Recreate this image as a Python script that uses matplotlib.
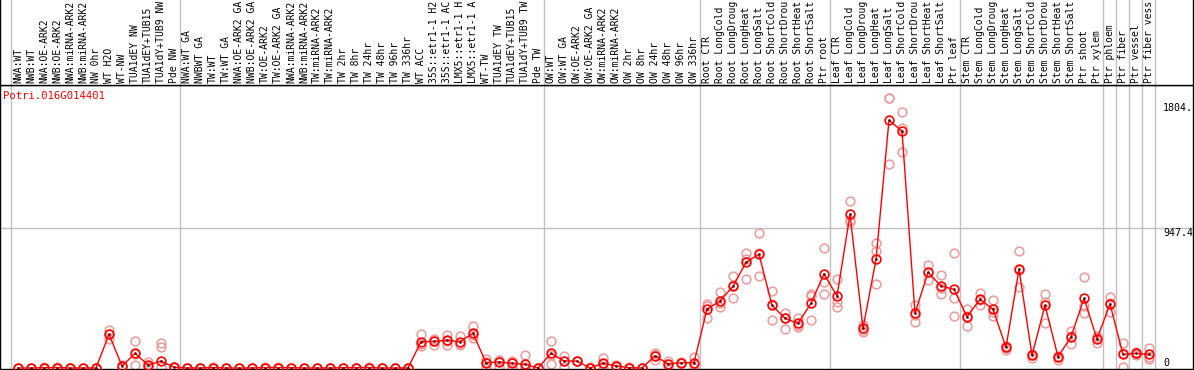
import matplotlib
matplotlib.use("Agg")
import matplotlib.pyplot as plt
import matplotlib.transforms as mtransforms
import numpy as np

# sample labels (as shown, truncated to 14 chars)
samples = [
    "NWA:WT", "NWB:WT", "NWA:OE-ARK2", "NWB:OE-ARK2", "NWA:miRNA-ARK2", "NWB:miRNA-ARK2",
    "NW 0hr", "WT H2O", "WT-NW", "TUA1dEY NW", "TUA1dEY+TUB15", "TUA1dY+TUB9 NW", "Pde NW",
    "NWA:WT GA", "NWBWT GA", "TW:WT", "TW:WT GA", "NWA:OE-ARK2 GA", "NWB:OE-ARK2 GA",
    "TW:OE-ARK2", "TW:OE-ARK2 GA", "NWA:miRNA-ARK2", "NWB:miRNA-ARK2", "TW:miRNA-ARK2",
    "TW:miRNA-ARK2", "TW 2hr", "TW 8hr", "TW 24hr", "TW 48hr", "TW 96hr", "TW 336hr",
    "WT ACC", "35S::etr1-1 H2", "35S::etr1-1 AC", "LMX5::etr1-1 H", "LMX5::etr1-1 A",
    "WT-TW", "TUA1dEY TW", "TUA1dEY+TUB15", "TUA1dY+TUB9 TW", "Pde TW",
    "OW:WT", "OW:WT GA", "OW:OE-ARK2", "OW:OE-ARK2 GA", "OW:miRNA-ARK2", "OW:miRNA-ARK2",
    "OW 2hr", "OW 8hr", "OW 24hr", "OW 48hr", "OW 96hr", "OW 336hr",
    "Root CTR", "Root LongCold", "Root LongDroug", "Root LongHeat", "Root LongSalt",
    "Root ShortCold", "Root ShortDrou", "Root ShortHeat", "Root ShortSalt", "Ptr root",
    "Leaf CTR", "Leaf LongCold", "Leaf LongDroug", "Leaf LongHeat", "Leaf LongSalt",
    "Leaf ShortCold", "Leaf ShortDrou", "Leaf ShortHeat", "Leaf ShortSalt", "Ptr leaf",
    "Stem CTR", "Stem LongCold", "Stem LongDroug", "Stem LongHeat", "Stem LongSalt",
    "Stem ShortCold", "Stem ShortDrou", "Stem ShortHeat", "Stem ShortSalt", "Ptr shoot",
    "Ptr xylem", "Ptr phloem", "Ptr fiber", "Ptr vessel", "Ptr fiber vess",
]
group_sizes = [13, 28, 12, 10, 10, 11, 1, 1, 1, 1]

means = [
    0, 0, 2, 3, 0, 0, 0, 228, 13, 99, 20, 47, 5,
    0, 0, 3, 0, 0, 0, 3, 3, 2, 0, 0, 0, 2, 2, 3, 0, 0, 0,
    178, 180, 187, 178, 235, 36, 41, 32, 25, 0,
    99, 47, 47, 0, 32, 14, 2, 0, 83, 27, 36, 36,
    399, 453, 553, 715, 771, 424, 336, 302, 438, 636,
    487, 1040, 269, 735, 1676, 1604, 370, 647, 555, 532,
    347, 465, 397, 140, 668, 86, 424, 77, 210, 471,
    196, 433, 92, 99, 92,
]
rep_a = [
    0, 0, 0, 0, 0, 0, 0, 257, 10, 180, 43, 171, 8,
    0, 0, 3, 0, 0, 0, 3, 3, 2, 0, 0, 0, 2, 2, 3, 0, 0, 0,
    230, 194, 225, 217, 282, 63, 55, 50, 88, 0,
    185, 83, 47, 0, 66, 20, 0, 0, 104, 47, 36, 77,
    433, 512, 623, 776, 911, 521, 374, 336, 499, 810,
    600, 1130, 246, 848, 1825, 1730, 426, 697, 629, 776,
    401, 510, 460, 122, 792, 95, 499, 54, 252, 618,
    215, 483, 167, 110, 138,
]
rep_b = [
    3, 0, 5, 6, 0, 0, 2, 196, 18, 20, 10, 144, 2,
    0, 0, 4, 0, 0, 0, 4, 4, 3, 0, 0, 0, 3, 3, 4, 0, 0, 0,
    149, 156, 153, 156, 203, 0, 8, 5, 0, 0,
    25, 9, 45, 5, 0, 5, 4, 0, 54, 5, 38, 0,
    336, 411, 471, 600, 620, 325, 262, 280, 325, 499,
    415, 1001, 260, 794, 1830, 1622, 309, 596, 501, 471,
    286, 424, 352, 150, 550, 70, 302, 80, 160, 374,
    170, 381, 9, 90, 72,
]
rep_c = [
    0, 0, 2, 3, 0, 0, 0, 232, 12, 97, 8, 5, 4,
    0, 0, 2, 0, 0, 0, 2, 2, 1, 0, 0, 0, 1, 1, 2, 0, 0, 0,
    160, 185, 180, 165, 225, 40, 45, 38, 10, 0,
    90, 50, 50, 0, 30, 15, 2, 0, 90, 30, 34, 30,
    420, 440, 560, 740, 780, 430, 340, 290, 490, 584,
    445, 990, 290, 568, 1380, 1462, 360, 650, 540, 352,
    350, 460, 380, 135, 660, 90, 450, 75, 215, 420,
    200, 440, 100, 95, 60,
]
gene = "Potri.016G014401"
ytick_vals = [1793, 947.4, 0]
ytick_text = ["1804.", "947.4", "0"]

W, H = 1194, 370
fig = plt.figure(figsize=(W / 100, H / 100), dpi=100)
fig.patch.set_facecolor("white")

# pixel layout
x0_px, step_px = 18, 13
right_px, head_px, bot_px = 1193, 85, 369
zero_px = 368
scale = 140 / 947.4  # px per unit

xl = (-x0_px / step_px, (right_px - x0_px) / step_px)
ax = fig.add_axes([0, (H - bot_px) / H, right_px / W, (bot_px - head_px) / H])
hd = fig.add_axes([0, (H - head_px) / H, right_px / W, head_px / H])

for a in (ax, hd):
    a.set_xlim(*xl)
    a.set_xticks([])
    a.set_yticks([])
    for s in a.spines.values():
        s.set_color("black")
        s.set_linewidth(1)
hd.spines["top"].set_visible(False)
hd.set_ylim(0, head_px)

ax.set_ylim(-(bot_px - zero_px) / scale, (zero_px - head_px) / scale)

mono = "DejaVu Sans Mono"
x = np.arange(len(samples))

# group separators
edges = np.concatenate([[0], np.cumsum(group_sizes)]) - 0.5
for e in edges:
    ax.axvline(e, color="#c0c0c0", lw=1, zorder=0)
    hd.axvline(e, color="#c0c0c0", lw=1, zorder=0)

ax.axhline(947.4, color="#c0c0c0", lw=1, zorder=0)

# header labels
for i, lab in enumerate(samples):
    hd.text(i, 2, lab[:14], rotation=90, ha="center", va="bottom",
            fontsize=7.0, family=mono, color="black")

# replicates
for r in (rep_a, rep_b, rep_c):
    ax.plot(x, r, ls="none", marker="o", ms=6.3, mfc="none",
            mec="#ee9a9a", mew=1.1, zorder=2, clip_on=False)

# means
ax.plot(x, means, color="red", lw=1, marker="o", ms=6.3, mfc="none",
        mec="red", mew=1.2, zorder=3, clip_on=False)
ax.plot(x, means, ls="none", marker="o", ms=0.9, color="#700000", zorder=4)

ax.text(3 / right_px, (bot_px - 96) / (bot_px - head_px), gene, transform=ax.transAxes,
        ha="left", va="center", fontsize=7.6, family=mono, color="red")

trans = mtransforms.blended_transform_factory(ax.transAxes, ax.transData)
for v, t in zip(ytick_vals, ytick_text):
    ax.text(1163 / right_px, v, t, transform=trans, ha="left",
            va="bottom" if v == 0 else "top", fontsize=7.2, family=mono,
            color="black")

fig.savefig("out.png", dpi=100)
